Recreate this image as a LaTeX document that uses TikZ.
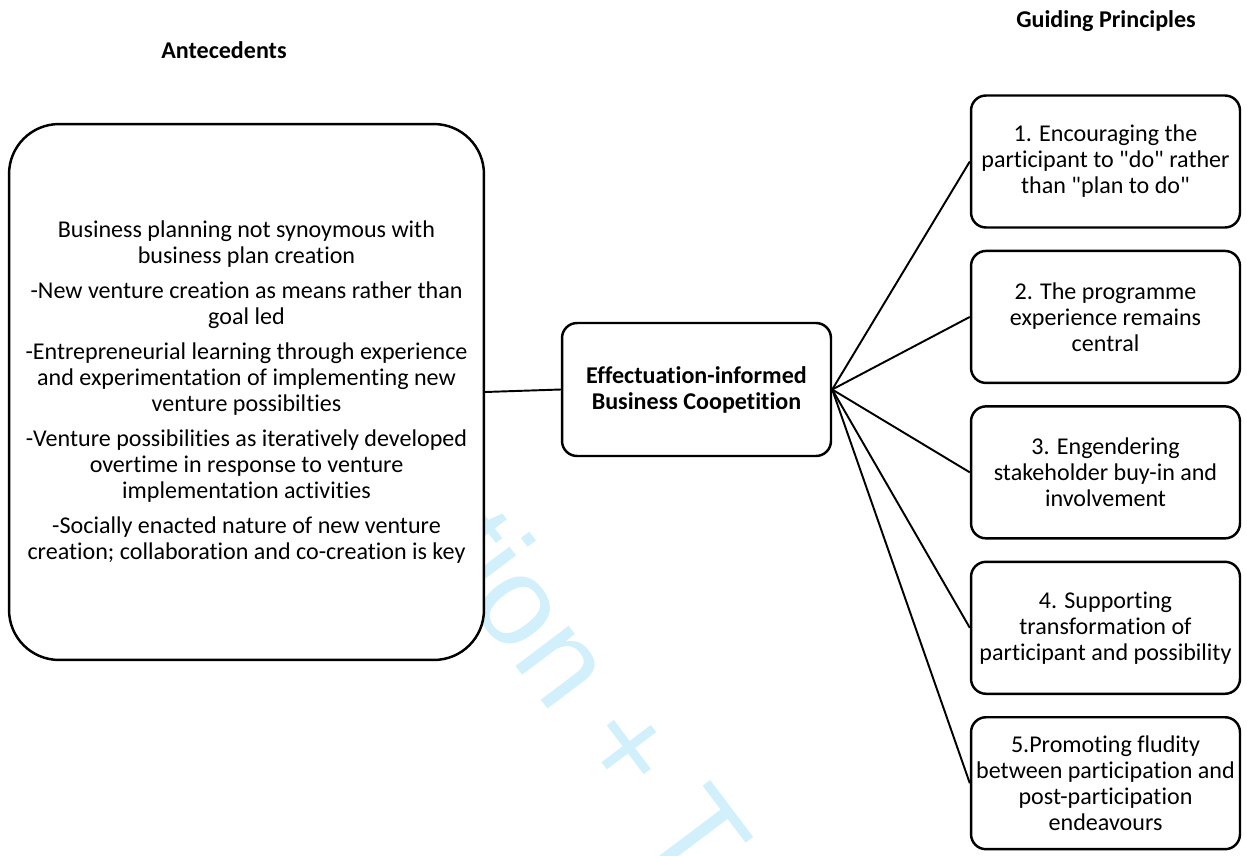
\documentclass[tikz,border=0pt]{standalone}
\usepackage{fontspec}
\newfontfamily\calfont{Carlito}[Ligatures=NoCommon]
\newfontfamily\wmfont{Liberation Sans}
\newcommand{\bodysize}{\calfont\fontsize{13.7}{14.8}\selectfont}
\usetikzlibrary{positioning}

\begin{document}
\begin{tikzpicture}[x=0.02cm, y=-0.02cm, font=\bodysize,
  box/.style={draw, line width=1.4pt, fill=white, align=center,
    rounded corners=0.3cm, minimum width=5.38cm, minimum height=2.64cm, inner sep=2pt},
  head/.style={font=\bodysize\bfseries},
  link/.style={line width=1.1pt}]
  \useasboundingbox (0,0) rectangle (1247,855);

  % watermark behind the boxes
  \node[cyan!18, font=\wmfont\fontsize{72}{72}\selectfont, rotate=-53] (mark) at (594,695) {tion + T};

  \node[head] (antehead) at (224,50) {Antecedents};
  \node[head] (guidehead) at (1106,21) {Guiding Principles};

  \node[box, rounded corners=1cm, minimum width=9.5cm, minimum height=10.72cm] (ante) at (246.5,392)
    {Business planning not synoymous with\\ business plan creation\\[5pt]
     -New venture creation as means rather than\\ goal led\\[5pt]
     -Entrepreneurial learning through experience\\ and experimentation of implementing new\\ venture possibilties\\[5pt]
     -Venture possibilities as iteratively developed\\ overtime in response to venture\\ implementation activities\\[5pt]
     -Socially enacted nature of new venture\\ creation; collaboration and co-creation is key};

  \node[box, head, minimum height=2.66cm] (hub) at (696.5,389.5)
    {Effectuation-informed\\ Business Coopetition};

  \node[box] (p1) at (1105.5,161.5) {1. Encouraging the\\ participant to "do" rather\\ than "plan to do"};
  \node[box, below=0.42cm of p1] (p2) {2. The programme\\ experience remains\\ central};
  \node[box, below=0.42cm of p2] (p3) {3. Engendering\\ stakeholder buy-in and\\ involvement};
  \node[box, below=0.42cm of p3] (p4) {4. Supporting\\ transformation of\\ participant and possibility};
  \node[box, below=0.42cm of p4] (p5) {5.Promoting fludity\\ between participation and\\ post-participation\\ endeavours};

  \draw[link] (ante.east) -- (hub.west);
  \foreach \i in {1,...,5} {
    \draw[link] (hub.east) -- (p\i.west);
  }
\end{tikzpicture}
\end{document}
